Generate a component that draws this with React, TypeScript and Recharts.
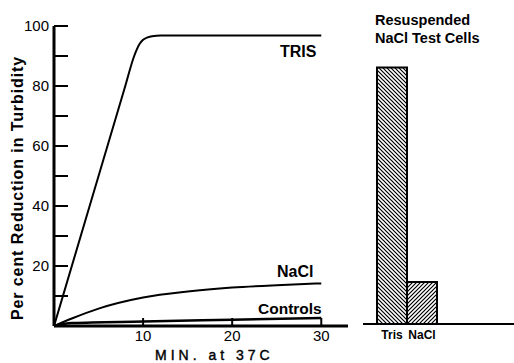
import React from 'react'
import { LineChart, Line, XAxis, YAxis, BarChart, Bar, Cell } from 'recharts'

// curves (minutes at 37C, per cent reduction)
const trisCurve = [
    { t: 0, v: 0 }, { t: 4, v: 40 }, { t: 8, v: 80 }, { t: 9, v: 90 }, { t: 9.6, v: 94 },
    { t: 10, v: 95.4 }, { t: 10.5, v: 96.2 }, { t: 11, v: 96.6 }, { t: 12, v: 96.8 },
    { t: 20, v: 96.8 }, { t: 30, v: 96.8 },
]
const naclCurve = [
    { t: 0, v: 0 }, { t: 2, v: 2.5 }, { t: 5, v: 5.8 }, { t: 10, v: 9.5 }, { t: 15, v: 11.5 },
    { t: 20, v: 12.8 }, { t: 25, v: 13.6 }, { t: 30, v: 14.2 },
]
const controlsCurve = [
    { t: 0, v: 0 }, { t: 2, v: 1 }, { t: 10, v: 1.5 }, { t: 20, v: 2.1 }, { t: 30, v: 2.7 },
]

const yTicks = [0, 10, 20, 30, 40, 50, 60, 70, 80, 90, 100]
const xTicks = [10, 20, 30]

// resuspended NaCl test cells
const barCategories = ['Tris', 'NaCl']
const barValues = [85.5, 14]
const barHatches = ['url(#hatchBack)', 'url(#hatchFwd)']

const barData = barCategories.map((name, i) => ({ name, value: barValues[i] }))

const font = '"Liberation Sans", Arial, sans-serif'

const YTick = (props: any) => {
    const { x, y, payload } = props
    const v = payload.value
    return (
        <g>
            <line x1={x} x2={x + 14} y1={y} y2={y} stroke="#000" strokeWidth={2} />
            {v > 0 && v % 20 === 0 ? (
                <text x={x - 5} y={y} dy={5} textAnchor="end" fontSize={15} fontFamily={font} fill="#000">{v}</text>
            ) : null}
        </g>
    )
}

const XTick = (props: any) => {
    const { x, y, payload } = props
    return (
        <g>
            <line x1={x} x2={x} y1={y} y2={y - 8} stroke="#000" strokeWidth={2} />
            <text x={x} y={y + 15} textAnchor="middle" fontSize={15} fontFamily={font} fill="#000">{payload.value}</text>
        </g>
    )
}

const BarTick = (props: any) => {
    const { x, y, payload } = props
    return (
        <text x={x} y={y + 15} textAnchor="middle" fontSize={12} fontWeight="bold" fontFamily={font} fill="#000">
            {payload.value}
        </text>
    )
}

const label = (left: number, top: number, text: string, size = 15, extra: React.CSSProperties = {}) => (
    <div style={{ position: 'absolute', left, top, fontSize: size, fontWeight: 'bold', fontFamily: font, color: '#000', whiteSpace: 'nowrap', lineHeight: 1, ...extra }}>
        {text}
    </div>
)

export default function App() {
    return (
        <div style={{ position: 'absolute', left: 0, top: 0, width: 514, height: 363, background: '#fff', overflow: 'hidden' }}>
            <svg width={0} height={0} style={{ position: 'absolute' }}>
                <defs>
                    <pattern id="hatchBack" patternUnits="userSpaceOnUse" width={4} height={4}>
                        <rect width={4} height={4} fill="#fff" />
                        <path d="M0,0 L4,4 M-1,3 L1,5 M3,-1 L5,1" stroke="#000" strokeWidth={1.2} />
                    </pattern>
                    <pattern id="hatchFwd" patternUnits="userSpaceOnUse" width={4} height={4}>
                        <rect width={4} height={4} fill="#fff" />
                        <path d="M0,4 L4,0 M-1,1 L1,-1 M3,5 L5,3" stroke="#000" strokeWidth={1.2} />
                    </pattern>
                </defs>
            </svg>

            <div style={{ position: 'absolute', left: 0, top: 0 }}>
                <LineChart width={363} height={363} margin={{ top: 26, right: 15, bottom: 0, left: 0 }}>
                    <XAxis
                        type="number"
                        dataKey="t"
                        domain={[0, 33]}
                        ticks={xTicks}
                        height={37}
                        tickSize={0}
                        tickMargin={0}
                        tickLine={false}
                        tick={<XTick />}
                        axisLine={{ stroke: '#000', strokeWidth: 3 }}
                        allowDataOverflow
                    />
                    <YAxis
                        type="number"
                        domain={[0, 100]}
                        ticks={yTicks}
                        width={54}
                        tickSize={0}
                        tickMargin={0}
                        tickLine={false}
                        tick={<YTick />}
                        axisLine={{ stroke: '#000', strokeWidth: 3 }}
                        interval={0}
                    />
                    <Line data={trisCurve} dataKey="v" type="monotone" stroke="#000" strokeWidth={2} dot={false} isAnimationActive={false} />
                    <Line data={naclCurve} dataKey="v" type="monotone" stroke="#000" strokeWidth={2} dot={false} isAnimationActive={false} />
                    <Line data={controlsCurve} dataKey="v" type="monotone" stroke="#000" strokeWidth={2.5} dot={false} isAnimationActive={false} />
                </LineChart>
            </div>

            <div style={{ position: 'absolute', left: 363, top: 0 }}>
                <BarChart width={151} height={363} data={barData} margin={{ top: 24, right: 0, bottom: 0, left: 0 }} barCategoryGap={0} barGap={0}>
                    <XAxis
                        dataKey="name"
                        height={39}
                        padding={{ left: 14, right: 77 }}
                        tickLine={false}
                        tickSize={0}
                        tickMargin={0}
                        tick={<BarTick />}
                        axisLine={{ stroke: '#000', strokeWidth: 2 }}
                        interval={0}
                    />
                    <YAxis hide domain={[0, 100]} />
                    <Bar dataKey="value" stroke="#000" strokeWidth={2} isAnimationActive={false}>
                        {barData.map((d, i) => (
                            <Cell key={d.name} fill={barHatches[i]} />
                        ))}
                    </Bar>
                </BarChart>
            </div>

            {label(280, 43.5, 'TRIS', 16)}
            {label(277, 263.5, 'NaCl', 16)}
            {label(258, 301, 'Controls', 15.5)}
            {label(375, 13, 'Resuspended', 14.5)}
            {label(375, 31, 'NaCl Test Cells', 14.5)}
            {label(155, 348, 'MIN. at 37C', 14, { letterSpacing: 4, fontWeight: 'normal', WebkitTextStroke: '0.4px #000' })}
            <div
                style={{
                    position: 'absolute', left: 18, top: 188, transform: 'translate(-50%, -50%) rotate(-90deg)',
                    fontSize: 16, fontWeight: 'bold', fontFamily: font, color: '#000', whiteSpace: 'nowrap', lineHeight: 1, letterSpacing: 0.9,
                }}
            >
                Per cent Reduction in Turbidity
            </div>
        </div>
    )
}
